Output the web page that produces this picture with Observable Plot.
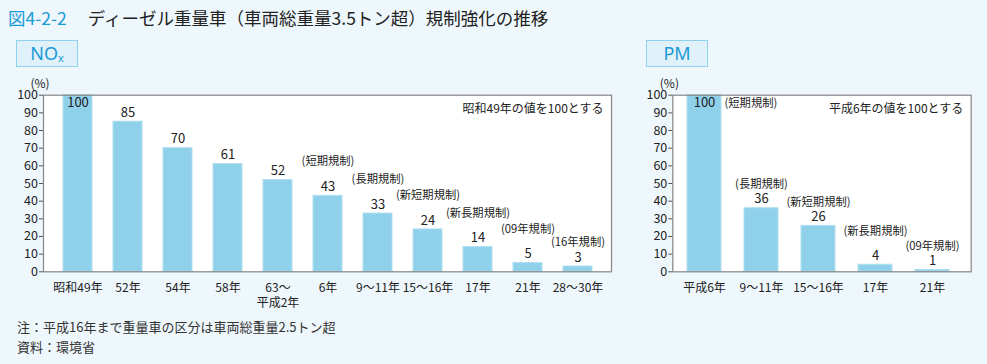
<!DOCTYPE html>
<html><head><meta charset="utf-8">
<script src="https://cdn.jsdelivr.net/npm/d3@7"></script>
<script src="https://cdn.jsdelivr.net/npm/@observablehq/plot@0.6"></script>
<style>
body{margin:0;background:#eef7fc;font-family:"Noto Sans CJK JP","Noto Sans",sans-serif;color:#222;}
#wrap{position:relative;width:987px;height:364px;overflow:hidden;background:#eef7fc;}
.abs{position:absolute;white-space:nowrap;}
#title{left:8px;top:7px;font-size:17.5px;line-height:22px;color:#222;}
#title .fig{color:#1a9ad6;margin-right:21px;}
.badge{top:40px;height:25px;border:1.5px solid #8fd2ee;background:#e1f1fa;color:#1a9ad6;font-size:18px;line-height:25px;text-align:center;font-family:"Noto Sans",sans-serif;}
.badge sub{font-size:11px;vertical-align:-2px;line-height:0;}
.note{left:17px;font-size:13px;line-height:16px;color:#333;}
</style></head><body><div id="wrap">
<div id="title" class="abs"><span class="fig">図4-2-2</span>ディーゼル重量車（車両総重量3.5トン超）規制強化の推移</div>
<div class="abs badge" style="left:16px;width:60px;">NO<sub>x</sub></div>
<div class="abs badge" style="left:646px;width:60px;">PM</div>
<div id="left" class="abs" style="left:0;top:70px;"></div>
<div id="right" class="abs" style="left:630px;top:70px;"></div>
<div class="abs note" style="top:319px;">注：平成16年まで重量車の区分は車両総重量2.5トン超</div>
<div class="abs note" style="top:339px;">資料：環境省</div>
</div>
<script>
// ---- data ----
const noxCategories = ["昭和49年","52年","54年","58年","63～\n平成2年","6年","9～11年","15～16年","17年","21年","28～30年"];
const noxValues = [100,85,70,61,52,43,33,24,14,5,3];
const noxRegs = ["","","","","","(短期規制)","(長期規制)","(新短期規制)","(新長期規制)","(09年規制)","(16年規制)"];
const noxNote = "昭和49年の値を100とする";

const pmCategories = ["平成6年","9～11年","15～16年","17年","21年"];
const pmValues = [100,36,26,4,1];
const pmRegs = ["(短期規制)","(長期規制)","(新短期規制)","(新長期規制)","(09年規制)"];
const pmNote = "平成6年の値を100とする";

const yTicks = [0,10,20,30,40,50,60,70,80,90,100];

// ---- build ----
const FONT = '"Noto Sans CJK JP","Noto Sans",sans-serif';
const BAR = "#8fd1ea";
const TXT = "#222";

function rows(cats, vals, regs){ return cats.map((c,i)=>({c, v: vals[i], reg: regs[i], i})); }

function chart({data, cats, width, ml, mr, pi, po, align, note, regMarks}){
  return Plot.plot({
    width, height: 240,
    marginLeft: ml, marginRight: mr, marginTop: 24.7, marginBottom: 38.7,
    style: {fontFamily: FONT, background: "transparent", color: TXT},
    x: {domain: cats, paddingInner: pi, paddingOuter: po, align},
    y: {domain: [0,100]},
    marks: [
      Plot.frame({fill: "white", stroke: null}),
      Plot.barY(data, {x: "c", y: "v", fill: BAR, stroke: "#b2dff1", strokeWidth: 1}),
      Plot.frame({stroke: "#858585", strokeWidth: 1.2}),
      Plot.axisY({ticks: yTicks, tickSize: 4, tickPadding: 1.5, fontSize: 12.5, label: null, stroke: "#555", fill: TXT}),
      Plot.axisX({tickSize: 0, tickPadding: 10, fontSize: 12, lineHeight: 1.22, label: null, fill: TXT}),
      Plot.text(["(%)"], {frameAnchor: "top-left", dx: -13, dy: -15.5, fontSize: 12, fill: TXT}),
      Plot.text([note], {frameAnchor: "top-right", dx: -8, dy: 9, textAnchor: "end", fontSize: 12, fill: TXT}),
      Plot.text(data.filter(d=>d.v<100), {x: "c", y: "v", text: d=>String(d.v), dy: -9, fontSize: 13, fill: TXT}),
      Plot.text(data.filter(d=>d.v>=100), {x: "c", y: "v", text: d=>String(d.v), dy: 7.5, fontSize: 13, fill: TXT}),
      ...regMarks
    ]
  });
}

const nox = rows(noxCategories, noxValues, noxRegs);
const pm = rows(pmCategories, pmValues, pmRegs);
const regStyle = {x: "c", y: "v", text: "reg", fontSize: 11.3, fill: TXT};

document.getElementById("left").appendChild(chart({
  data: nox, cats: noxCategories, width: 620, ml: 43, mr: 9, pi: 0.423, po: 0.358, align: 0.5,
  note: noxNote,
  regMarks: [
    Plot.text(nox.filter(d=>d.reg && d.i < nox.length-1), {...regStyle, dy: -34}),
    Plot.text(nox.filter(d=>d.reg && d.i === nox.length-1), {...regStyle, dy: -24})
  ]
}));

document.getElementById("right").appendChild(chart({
  data: pm, cats: pmCategories, width: 357, ml: 42.3, mr: 16.3, pi: 0.407, po: 0.307, align: 0.39,
  note: pmNote,
  regMarks: [
    Plot.text(pm.filter(d=>d.i===0), {...regStyle, dx: 20, dy: 8, textAnchor: "start"}),
    Plot.text(pm.filter(d=>d.i===1 || d.i===2), {...regStyle, dy: -24}),
    Plot.text(pm.filter(d=>d.i===3), {...regStyle, dy: -33}),
    Plot.text(pm.filter(d=>d.i===4), {...regStyle, dy: -24})
  ]
}));
</script>
</body></html>
